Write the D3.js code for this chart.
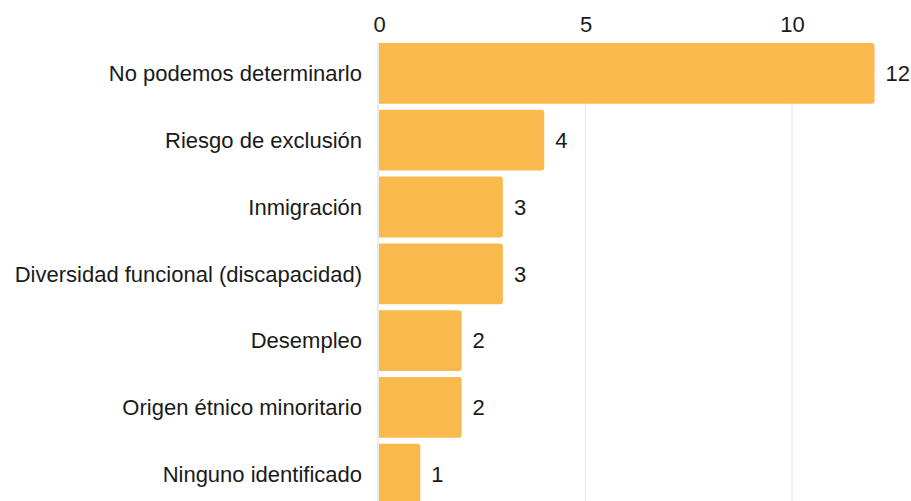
<!DOCTYPE html>
<html>
<head>
<meta charset="utf-8">
<script src="https://cdn.jsdelivr.net/npm/d3@7"></script>
<style>
  html, body { margin: 0; padding: 0; background: #fff; }
  svg { display: block; font-family: "Liberation Sans", Arial, sans-serif; }
</style>
</head>
<body>
<svg id="chart" width="911" height="501"></svg>
<script>
// Categories and counts
const categories = [
  "No podemos determinarlo",
  "Riesgo de exclusión",
  "Inmigración",
  "Diversidad funcional (discapacidad)",
  "Desempleo",
  "Origen étnico minoritario",
  "Ninguno identificado"
];
const counts = [12, 4, 3, 3, 2, 2, 1];
const tickValues = [0, 5, 10];

const fontSize = 22;
const ink = "#1a1a1a";
const svg = d3.select("#chart");
const x0 = 379, pxPerUnit = 41.3;
const x = d3.scaleLinear().domain([0, 12]).range([x0, x0 + 12 * pxPerUnit]);
const y = d3.scaleBand().domain(categories)
  .range([40, 40 + categories.length * 66.8])
  .paddingInner(0.09).paddingOuter(0.045);

const data = categories.map((c, i) => ({ cat: c, val: counts[i] }));

// Gridlines
svg.append("g").selectAll("line").data(tickValues).join("line")
  .attr("x1", d => x(d) - (d === 0 ? 1 : 0)).attr("x2", d => x(d) - (d === 0 ? 1 : 0))
  .attr("y1", 43).attr("y2", 501)
  .attr("stroke", d => d === 0 ? "#d9d9d9" : "#e6e6e6")
  .attr("stroke-width", 1);

// Top axis labels
const axis = d3.axisTop(x).tickValues(tickValues).tickSize(0).tickPadding(0);
const gAxis = svg.append("g").attr("transform", "translate(0,32)").call(axis);
gAxis.select(".domain").remove();
gAxis.selectAll("text")
  .attr("font-size", fontSize).attr("fill", ink)
  .attr("font-family", '"Liberation Sans", Arial, sans-serif');

// Bars with rounded right end
const r = 3;
svg.append("g").selectAll("path").data(data).join("path")
  .attr("fill", "#f9b94d")
  .attr("d", d => {
    const xa = x(0), xb = x(d.val), ya = y(d.cat), yb = ya + y.bandwidth();
    return `M${xa},${ya}H${xb - r}Q${xb},${ya} ${xb},${ya + r}V${yb - r}Q${xb},${yb} ${xb - r},${yb}H${xa}Z`;
  });

// Category labels
svg.append("g").selectAll("text").data(data).join("text")
  .attr("x", 362)
  .attr("y", d => y(d.cat) + y.bandwidth() / 2)
  .attr("dy", "0.35em")
  .attr("text-anchor", "end")
  .attr("font-size", fontSize).attr("fill", ink)
  .text(d => d.cat);

// Value labels
svg.append("g").selectAll("text").data(data).join("text")
  .attr("x", d => x(d.val) + 11)
  .attr("y", d => y(d.cat) + y.bandwidth() / 2)
  .attr("dy", "0.35em")
  .attr("font-size", fontSize).attr("fill", ink)
  .text(d => d.val);
</script>
</body>
</html>
